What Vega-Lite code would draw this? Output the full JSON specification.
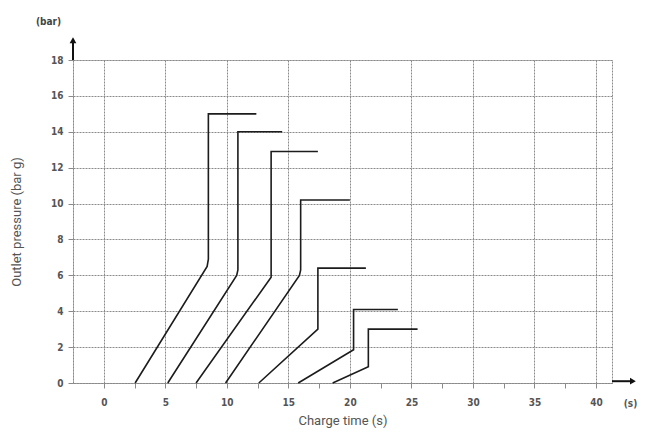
{
  "$schema": "https://vega.github.io/schema/vega-lite/v6.json",
  "width": 539,
  "height": 323,
  "autosize": {"type": "none"},
  "padding": {"left": 73, "top": 60, "right": 39, "bottom": 60},
  "background": "white",
  "title": {"text": "(bar)", "anchor": "start", "frame": "group", "dx": -37, "offset": 10, "fontSize": 10, "fontWeight": "bold", "color": "#444", "font": "DejaVu Sans Condensed, Roboto"},
  "config": {
    "view": {"stroke": "#8a8a8a", "strokeDash": [2, 1], "strokeWidth": 1},
    "axis": {
      "labelOverlap": false,
      "gridColor": "#8a8a8a", "gridDash": [2, 1], "gridWidth": 1,
      "domainColor": "#8a8a8a", "domainDash": [2, 1], "domainWidth": 1,
      "tickColor": "#8a8a8a", "tickSize": 5,
      "labelFont": "DejaVu Sans Condensed, Roboto", "labelFontSize": 10, "labelFontWeight": "bold", "labelColor": "#555",
      "titleFont": "Roboto", "titleFontSize": 13, "titleFontWeight": "normal", "titleColor": "#555"
    }
  },
  "resolve": {"axis": {"x": "independent", "y": "independent"}},
  "datasets": {
    "curves": [
      {"series": "A", "i": 0, "t": 2.55, "p": 0},
      {"series": "A", "i": 1, "t": 8.4, "p": 6.5},
      {"series": "A", "i": 2, "t": 8.5, "p": 6.9},
      {"series": "A", "i": 3, "t": 8.5, "p": 15.0},
      {"series": "A", "i": 4, "t": 12.4, "p": 15.0},
      {"series": "B", "i": 0, "t": 5.2, "p": 0},
      {"series": "B", "i": 1, "t": 10.8, "p": 6.0},
      {"series": "B", "i": 2, "t": 10.9, "p": 6.3},
      {"series": "B", "i": 3, "t": 10.9, "p": 14.0},
      {"series": "B", "i": 4, "t": 14.5, "p": 14.0},
      {"series": "C", "i": 0, "t": 7.5, "p": 0},
      {"series": "C", "i": 1, "t": 13.6, "p": 5.9},
      {"series": "C", "i": 2, "t": 13.6, "p": 12.9},
      {"series": "C", "i": 3, "t": 17.4, "p": 12.9},
      {"series": "D", "i": 0, "t": 9.9, "p": 0},
      {"series": "D", "i": 1, "t": 15.9, "p": 6.0},
      {"series": "D", "i": 2, "t": 16.0, "p": 6.3},
      {"series": "D", "i": 3, "t": 16.0, "p": 10.2},
      {"series": "D", "i": 4, "t": 20.0, "p": 10.2},
      {"series": "E", "i": 0, "t": 12.6, "p": 0},
      {"series": "E", "i": 1, "t": 17.4, "p": 3.0},
      {"series": "E", "i": 2, "t": 17.4, "p": 6.4},
      {"series": "E", "i": 3, "t": 21.3, "p": 6.4},
      {"series": "F", "i": 0, "t": 15.8, "p": 0},
      {"series": "F", "i": 1, "t": 20.3, "p": 1.85},
      {"series": "F", "i": 2, "t": 20.3, "p": 4.1},
      {"series": "F", "i": 3, "t": 23.9, "p": 4.1},
      {"series": "G", "i": 0, "t": 18.6, "p": 0},
      {"series": "G", "i": 1, "t": 21.5, "p": 0.9},
      {"series": "G", "i": 2, "t": 21.5, "p": 3.0},
      {"series": "G", "i": 3, "t": 25.5, "p": 3.0}
    ]
  },
  "layer": [
    {
      "data": {"name": "curves"},
      "mark": {"type": "line", "color": "#1c1c1c", "strokeWidth": 1.6, "strokeJoin": "miter"},
      "encoding": {
        "x": {
          "field": "t", "type": "quantitative",
          "scale": {"domain": [-2.5, 41.3], "nice": false, "zero": false},
          "axis": {
            "title": "Charge time (s)",
            "values": [0, 2.5, 5, 7.5, 10, 12.5, 15, 17.5, 20, 22.5, 25, 27.5, 30, 32.5, 35, 37.5, 40],
            "labelExpr": "datum.value % 5 === 0 ? datum.label : ''",
            "labelOverlap": false,
            "gridOpacity": {"condition": {"test": "datum.value % 5 !== 0", "value": 0}, "value": 1},
            "labelPadding": 9,
            "titlePadding": 7
          }
        },
        "y": {
          "field": "p", "type": "quantitative",
          "scale": {"domain": [0, 18], "nice": false},
          "axis": {
            "title": "Outlet pressure (bar g)",
            "values": [0, 2, 4, 6, 8, 10, 12, 14, 16, 18],
            "format": "d",
            "labelOverlap": false,
            "labelFlush": false,
            "labelPadding": 5,
            "titlePadding": 27
          }
        },
        "detail": {"field": "series"},
        "order": {"field": "i"}
      }
    },
    {
      "data": {"values": [{}]},
      "mark": {"type": "rule", "color": "#111", "strokeWidth": 2},
      "encoding": {"x": {"datum": -2.5, "axis": null}, "y": {"datum": 18, "axis": null}, "y2": {"datum": 19.1}}
    },
    {
      "data": {"values": [{}]},
      "mark": {"type": "point", "shape": "triangle-up", "filled": true, "color": "#111", "size": 45, "opacity": 1},
      "encoding": {"x": {"datum": -2.5, "axis": null}, "y": {"datum": 19.1, "axis": null}}
    },
    {
      "data": {"values": [{}]},
      "mark": {"type": "rule", "color": "#111", "strokeWidth": 2},
      "encoding": {"x": {"datum": 41.3, "axis": null}, "x2": {"datum": 43.0}, "y": {"datum": 0.1, "axis": null}}
    },
    {
      "data": {"values": [{}]},
      "mark": {"type": "point", "shape": "triangle-right", "filled": true, "color": "#111", "size": 45, "opacity": 1},
      "encoding": {"x": {"datum": 43.0, "axis": null}, "y": {"datum": 0.1, "axis": null}}
    },
    {
      "data": {"values": [{}]},
      "mark": {"type": "text", "dy": 21, "font": "DejaVu Sans Condensed, Roboto", "fontSize": 10, "fontWeight": "bold", "color": "#555"},
      "encoding": {"x": {"datum": 42.8, "axis": null}, "y": {"datum": 0, "axis": null}, "text": {"value": "(s)"}}
    }
  ]
}
